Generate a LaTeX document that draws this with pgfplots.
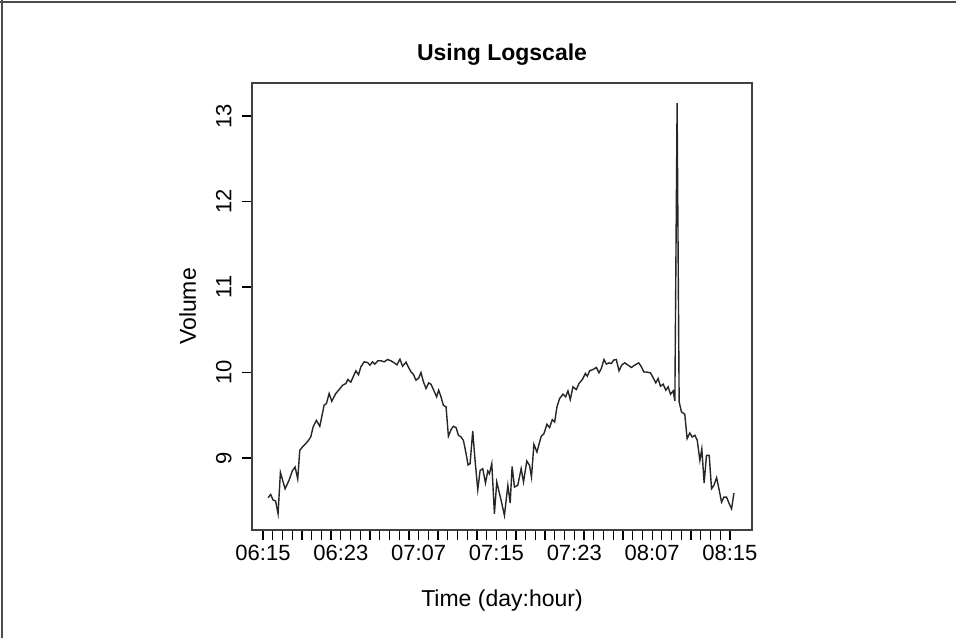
\documentclass[border=0pt]{standalone}
\usepackage{pgfplots}
\pgfplotsset{compat=1.18}
\usepackage{fontspec}
\setmainfont{Liberation Sans}

\pgfplotstableread{
h v
0.52 8.535
0.79 8.574
1.03 8.51
1.30 8.496
1.55 8.348
1.79 8.832
2.27 8.64
2.68 8.74
3.02 8.85
3.30 8.895
3.57 8.754
3.78 9.09
4.12 9.137
4.57 9.19
4.91 9.246
5.15 9.363
5.49 9.44
5.84 9.37
6.28 9.617
6.52 9.637
6.80 9.754
7.07 9.664
7.48 9.754
7.83 9.80
8.17 9.85
8.52 9.871
8.72 9.918
9.03 9.887
9.30 9.957
9.55 10.02
9.82 9.973
10.06 10.066
10.40 10.125
10.75 10.117
10.99 10.086
11.26 10.125
11.50 10.098
11.81 10.137
12.12 10.137
12.46 10.125
12.81 10.152
13.15 10.137
13.49 10.113
13.77 10.09
14.08 10.156
14.35 10.074
14.70 10.121
14.97 10.059
15.21 10.008
15.45 9.98
15.73 9.91
16.00 9.934
16.24 10.0
16.48 9.895
16.76 9.813
17.03 9.879
17.27 9.863
17.55 9.793
17.85 9.715
18.06 9.793
18.30 9.715
18.54 9.617
18.82 9.598
19.06 9.254
19.33 9.332
19.57 9.371
19.85 9.355
20.09 9.266
20.36 9.246
20.60 9.207
20.88 9.05
21.08 8.918
21.29 8.934
21.56 9.316
21.80 8.973
22.08 8.629
22.32 8.855
22.59 8.875
22.87 8.707
23.11 8.848
23.28 8.816
23.52 8.934
23.79 8.348
24.03 8.72
24.48 8.504
24.82 8.328
25.17 8.68
25.41 8.473
25.61 8.902
25.85 8.66
26.19 8.68
26.54 8.875
26.78 8.719
27.12 8.965
27.40 8.914
27.60 8.777
27.85 9.16
28.16 9.07
28.60 9.254
28.88 9.285
29.19 9.395
29.46 9.355
29.74 9.449
29.98 9.42
30.22 9.598
30.49 9.695
30.84 9.746
31.11 9.715
31.35 9.785
31.59 9.684
31.86 9.832
32.21 9.80
32.48 9.871
32.83 9.918
33.14 9.988
33.34 9.957
33.58 10.02
33.93 10.035
34.27 10.059
34.54 9.996
34.78 10.047
35.05 10.152
35.30 10.098
35.57 10.113
35.81 10.105
36.05 10.145
36.32 10.152
36.60 10.02
36.87 10.086
37.18 10.113
37.53 10.086
37.87 10.059
38.21 10.086
38.63 10.113
38.90 10.066
39.14 10.008
39.48 10.004
39.83 9.996
40.10 9.941
40.38 9.879
40.62 9.93
40.86 9.84
41.14 9.863
41.41 9.793
41.65 9.832
41.89 9.746
42.17 9.785
42.34 9.668
42.57 13.15
42.78 9.656
43.02 9.539
43.36 9.512
43.60 9.227
43.88 9.293
44.12 9.246
44.40 9.266
44.64 9.207
44.91 8.973
45.11 9.109
45.35 8.707
45.59 9.031
45.87 9.031
46.11 8.641
46.35 8.68
46.63 8.77
46.87 8.641
47.14 8.484
47.38 8.543
47.65 8.543
47.93 8.465
48.17 8.406
48.41 8.59
}\volume

\begin{document}
\begin{tikzpicture}[x=1pt,y=1pt]
\path[use as bounding box] (0,0) rectangle (956,638);
\draw[black!70, line width=1.2pt] (0,636) -- (956,636);
\draw[black!70, line width=1.2pt] (2,0) -- (2,638);
\begin{axis}[
    at={(252pt,108pt)}, anchor=south west,
    scale only axis,
    width=500pt, height=447pt,
    xmin=-1.13, xmax=50.27,
    ymin=8.158, ymax=13.386,
    axis line style={black!75, line width=1.1pt},
    tick style={black, line width=1.2pt},
    tick align=outside,
    major tick length=10pt,
    xtick pos=bottom, ytick pos=left,
    xtick={0,1,...,48},
    xticklabels={06:15,,,,,,,,06:23,,,,,,,,07:07,,,,,,,,07:15,,,,,,,,07:23,,,,,,,,08:07,,,,,,,,08:15},
    ytick={9,10,11,12,13},
    /pgf/number format/assume math mode=true,
    ticklabel style={font=\fontsize{22}{24}\selectfont},
    xticklabel style={yshift=-2pt},
    yticklabel style={xshift=-7pt, rotate=90, anchor=south},
    label style={font=\fontsize{23}{25}\selectfont},
    xlabel={Time (day:hour)},
    xlabel style={yshift=-22pt},
    ylabel={Volume},
    ylabel style={yshift=13pt},
    title={\textbf{Using Logscale}},
    title style={font=\fontsize{23}{25}\selectfont, yshift=8pt},
    ]
\addplot[black!85, line width=1.4pt, no marks] table[x=h, y=v] {\volume};
\end{axis}
\end{tikzpicture}
\end{document}
